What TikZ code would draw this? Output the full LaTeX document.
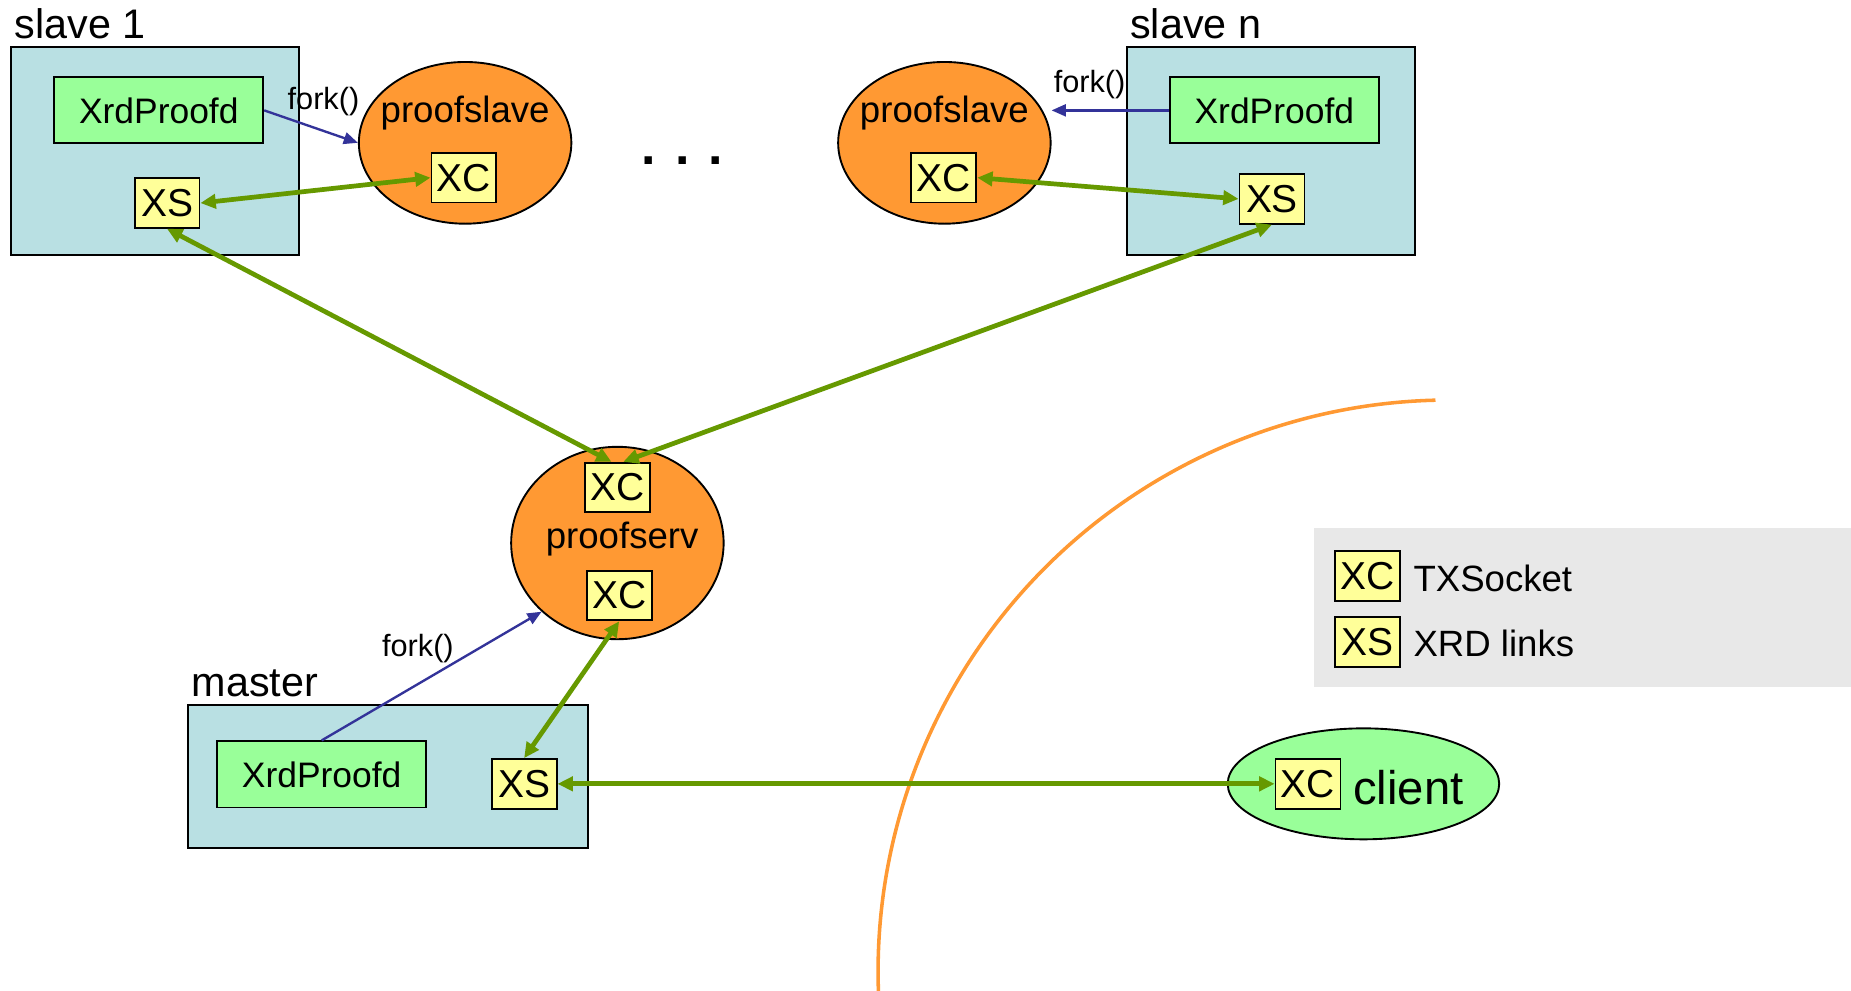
\documentclass[tikz,border=0pt]{standalone}
\usepackage{fontspec}
\setmainfont{Liberation Sans}
\usetikzlibrary{shapes.geometric,arrows.meta}
\definecolor{hostblue}{HTML}{B9E0E3}
\definecolor{dgreen}{HTML}{99FF99}
\definecolor{sockyellow}{HTML}{FFFF99}
\definecolor{procorange}{HTML}{FF9933}
\definecolor{linkgreen}{HTML}{669900}
\definecolor{forkblue}{HTML}{333399}
\definecolor{leggray}{HTML}{E8E8E8}
\newcommand\fsz[1]{\fontsize{#1}{#1}\selectfont}
\tikzset{
  hostbox/.style={draw, fill=hostblue, line width=0.8pt, rectangle, inner sep=0pt},
  hostlabel/.style={anchor=base west, inner sep=0pt, font=\fsz{17.5pt}},
  daemon/.style={draw, fill=dgreen, line width=0.8pt, rectangle, inner sep=0pt,
    minimum width=88.5pt, minimum height=28pt, font=\fsz{15pt}},
  sock/.style={draw, fill=sockyellow, line width=0.8pt, rectangle, inner sep=0pt,
    minimum width=27.5pt, minimum height=21pt, font=\fsz{16.5pt}},
  proc/.style={draw, fill=procorange, line width=0.8pt, ellipse, inner sep=0pt},
  proctext/.style={inner sep=0pt, font=\fsz{15.5pt}},
  forklabel/.style={inner sep=0pt, font=\fsz{13pt}},
  forkarrow/.style={draw=forkblue, line width=1pt, -{Triangle[length=6pt,width=5pt]}},
  link/.style={draw=linkgreen, line width=2pt, {Triangle[length=6.5pt,width=6pt]}-{Triangle[length=6.5pt,width=6pt]}},
  arcline/.style={draw=procorange, line width=1.5pt},
  legtext/.style={anchor=west, inner sep=0pt, font=\fsz{15.5pt}}
}
\begin{document}
\begin{tikzpicture}[x=0.5pt,y=-0.5pt]
\useasboundingbox (0,0) rectangle (1568,839);

% orange boundary arc
\draw[arcline] (1216,339) arc[start angle=268.6, end angle=177, radius=484];

% legend
\fill[leggray] (1113,447) rectangle (1568,582);
\node[sock] (legxc) at (1158.5,488) {XC};
\node[legtext] (legxct) at (1197,490) {TXSocket};
\node[sock] (legxs) at (1158.5,544) {XS};
\node[legtext] (legxst) at (1197,545) {XRD links};

% slave 1
\node[hostbox, minimum width=122pt, minimum height=88pt] (s1) at (131,128) {};
\node[hostlabel] (s1l) at (12,33) {slave 1};
\node[daemon] (xrd1) at (134.5,93.5) {XrdProofd};
\node[sock] (xs1) at (141.5,172) {XS};
\node[proc, minimum width=90pt, minimum height=68.5pt] (ps1) at (394,121) {};
\node[proctext] (ps1t) at (394,96) {proofslave};
\node[sock] (xc1) at (393,150.5) {XC};
\node[forklabel] (fk1) at (274,86) {fork()};

% dots
\node[inner sep=0pt, font=\fsz{22pt}\bfseries] (dots) at (578,136) {. . .};

% slave n
\node[hostbox, minimum width=122pt, minimum height=88pt] (sn) at (1077,128) {};
\node[hostlabel] (snl) at (957,33) {slave n};
\node[daemon] (xrdn) at (1079.5,93.5) {XrdProofd};
\node[sock] (xsn) at (1077.5,168.5) {XS};
\node[proc, minimum width=90pt, minimum height=68.5pt] (psn) at (800,121) {};
\node[proctext] (psnt) at (800,96) {proofslave};
\node[sock] (xcn) at (799.5,150.5) {XC};
\node[forklabel] (fkn) at (923,72) {fork()};

% proofserv
\node[proc, minimum width=90pt, minimum height=81.5pt] (pserv) at (523,460) {};
\node[sock] (xcs1) at (523,413) {XC};
\node[proctext] (pservt) at (527,457) {proofserv};
\node[sock] (xcs2) at (524.5,504.5) {XC};

% master
\node[hostbox, minimum width=169.5pt, minimum height=60.5pt] (m) at (328.5,657.5) {};
\node[hostlabel] (ml) at (162,590) {master};
\node[daemon] (xrdm) at (272.5,656) {XrdProofd};
\node[sock] (xsm) at (444,664) {XS};
\node[forklabel] (fkm) at (354,549) {fork()};

% client
\node[draw, fill=dgreen, line width=0.8pt, ellipse, inner sep=0pt, minimum width=115pt, minimum height=47pt] (cl) at (1155,664) {};
\node[sock] (xcc) at (1108,664) {XC};
\node[inner sep=0pt, font=\fsz{20pt}] (clt) at (1193,667) {client};

% fork arrows
\draw[forkarrow] (xrd1.east) -- (ps1.west);
\draw[forkarrow] (xrdn.west) -- (xrdn.west -| psn.east);
\draw[forkarrow] (xrdm.north) -- (pserv.south west);

% links
\draw[link] (xs1.east) -- (xc1.west);
\draw[link] (xcn.east) -- (xsn.west);
\draw[link] (xs1.south) -- ([xshift=-2.5pt]xcs1.north);
\draw[link] (xsn.south) -- ([xshift=2.5pt]xcs1.north);
\draw[link] (xcs2.south) -- (xsm.north);
\draw[link] (xsm.east) -- (xcc.west);
\end{tikzpicture}
\end{document}
